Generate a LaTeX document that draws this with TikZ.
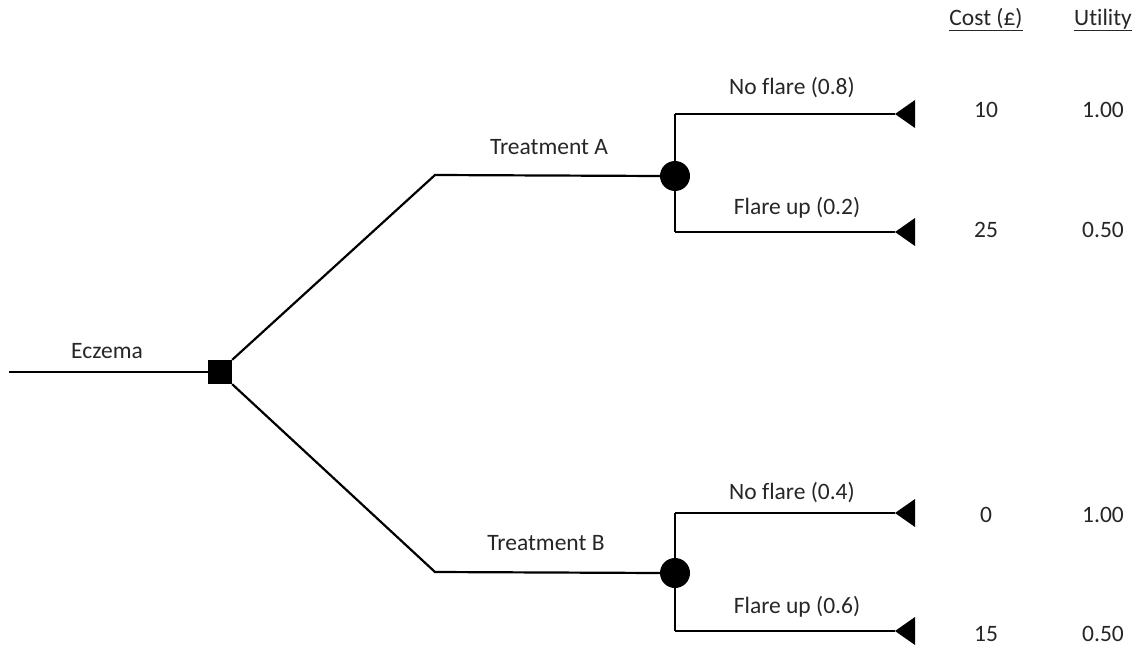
\documentclass[tikz,border=0pt]{standalone}
\usepackage{fontspec}
\setmainfont{Carlito}[Ligatures=NoCommon]
\begin{document}
\begin{tikzpicture}[x=1pt,y=-1pt,
  branch/.style={line width=2.2pt,black},
  lbl/.style={font=\fontsize{23.5}{28}\selectfont,inner sep=0pt,text=black!85},
  decision/.style={fill=black,minimum size=24pt,inner sep=0pt,rectangle},
  chance/.style={fill=black,circle,minimum size=30pt,inner sep=0pt},
  terminal/.style={fill=black,draw=none}]
\useasboundingbox (0,0) rectangle (1141,650);
\fill[white] (0,0) rectangle (1141,650);
% nodes
\coordinate (start) at (9,372);
\node[decision] (dec) at (220,372) {};
\coordinate (ka) at (435,175);
\coordinate (kb) at (435,572);
\node[chance] (ca) at (675,176) {};
\node[chance] (cb) at (675,573) {};
\coordinate (a1) at (675,114);
\coordinate (a2) at (675,232);
\coordinate (b1) at (675,513);
\coordinate (b2) at (675,631);
\coordinate (ta1) at (895,114);
\coordinate (ta2) at (895,232);
\coordinate (tb1) at (895,513);
\coordinate (tb2) at (895,631);
% connectors
\draw[branch] (start) -- (dec.west);
\draw[branch] (dec.north east) -- (ka) -- (ca.west);
\draw[branch] (dec.south east) -- (kb) -- (cb.west);
\draw[branch] (a1) -- (a2);
\draw[branch] (b1) -- (b2);
\draw[branch] (a1) -- (ta1);
\draw[branch] (a2) -- (ta2);
\draw[branch] (b1) -- (tb1);
\draw[branch] (b2) -- (tb2);
% terminal triangles
\foreach \t in {ta1,ta2,tb1,tb2}{
  \fill[terminal] (\t) -- ++(20,-14) -- ++(0,28) -- cycle;
}
% labels
\node[lbl] (le) at (107,351) {Eczema};
\node[lbl] (lta) at (549,147) {Treatment A};
\node[lbl] (ltb) at (546,543) {Treatment B};
\node[lbl] (la1) at (792,88) {No flare (0.8)};
\node[lbl] (la2) at (797,208) {Flare up (0.2)};
\node[lbl] (lb1) at (792,493) {No flare (0.4)};
\node[lbl] (lb2) at (797,607) {Flare up (0.6)};
% headers
\node[lbl] (hc) at (986,20) {\underline{Cost (£)}};
\node[lbl] (hu) at (1103,20) {\underline{Utility}};
% values
\node[lbl] (c1) at (986,110) {10};
\node[lbl] (c2) at (986,230) {25};
\node[lbl] (c3) at (986,515) {0};
\node[lbl] (c4) at (986,634) {15};
\node[lbl] (u1) at (1103,110) {1.00};
\node[lbl] (u2) at (1103,230) {0.50};
\node[lbl] (u3) at (1103,515) {1.00};
\node[lbl] (u4) at (1103,634) {0.50};
\end{tikzpicture}
\end{document}
